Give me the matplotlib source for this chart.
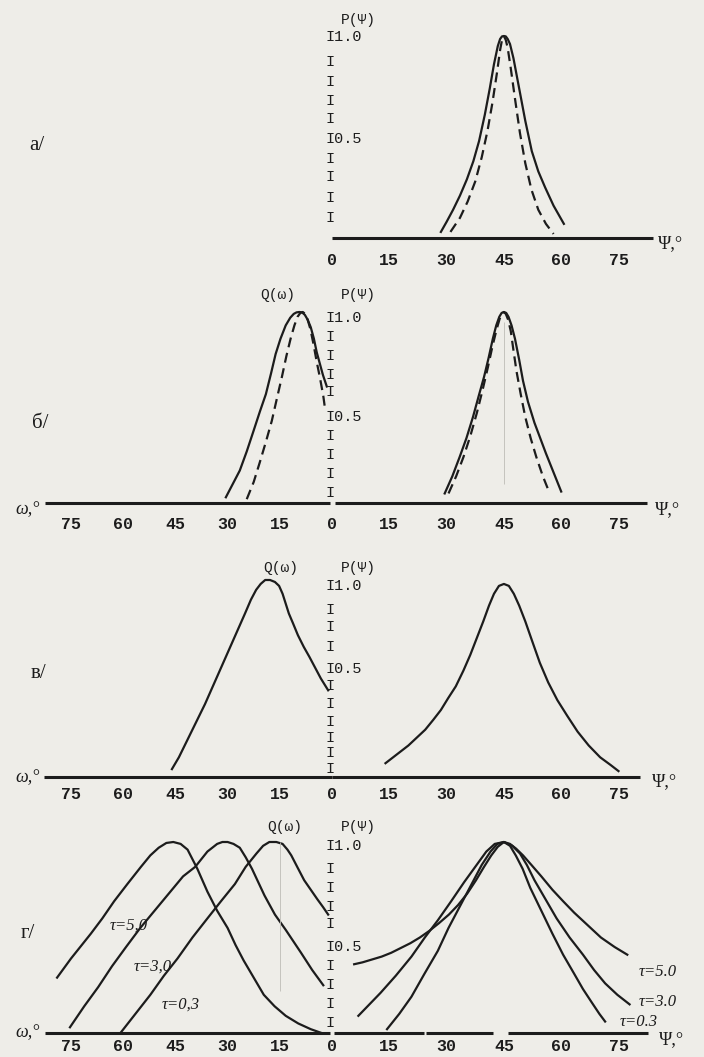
import matplotlib
matplotlib.use("Agg")
import matplotlib.pyplot as plt

# ---------------- data ----------------
# panel a/ : P(psi), solid and dashed
a_solid_psi = [28.5, 30, 31.7, 33.5, 35.3, 37, 38.5, 40, 41.3, 42.4, 43.4, 44.0, 44.5, 45, 45.5, 46.0,
               46.6, 47.5, 48.4, 49.4, 50.6, 52.3, 54, 55.8, 58, 60.7]
a_solid_p = [0.03, 0.08, 0.14, 0.21, 0.29, 0.38, 0.48, 0.61, 0.74, 0.86, 0.95, 0.985, 0.998, 1.0, 0.998,
             0.985, 0.96, 0.89, 0.80, 0.70, 0.58, 0.43, 0.33, 0.25, 0.16, 0.07]
a_dash_psi = [31, 33.5, 35.5, 37.5, 39.2, 40.7, 42, 43.2, 44.0, 44.5, 45, 45.5, 46.0, 46.8, 47.9, 49.2,
              50.6, 52.2, 54, 56, 58]
a_dash_p = [0.03, 0.10, 0.18, 0.28, 0.40, 0.53, 0.67, 0.82, 0.93, 0.98, 1.0, 0.98, 0.94, 0.84, 0.69,
            0.52, 0.37, 0.24, 0.14, 0.07, 0.02]

# panel б/ : Q(omega) left, P(psi) right
b_l_solid_om = [30.5, 28.5, 26.5, 24.5, 22.5, 20.7, 19, 17.5, 16.2, 14.8, 13.3, 12, 11.0, 10.2, 9.4,
                8.6, 7.8, 7, 6.1, 5.2, 4.4, 3.5, 2.6, 1.5]
b_l_solid_q = [0.03, 0.10, 0.17, 0.27, 0.38, 0.48, 0.57, 0.68, 0.78, 0.86, 0.93, 0.97, 0.99, 0.998, 1.0,
               0.998, 0.985, 0.96, 0.92, 0.86, 0.79, 0.73, 0.67, 0.61]
b_l_dash_om = [24.5, 22.5, 20.8, 19, 17.3, 15.8, 14.4, 13.1, 11.9, 10.8, 9.9, 9.1, 8.4, 7.7, 7, 6.2,
               5.3, 4.4, 3.4, 2.5, 1.9]
b_l_dash_q = [0.02, 0.11, 0.21, 0.32, 0.43, 0.55, 0.66, 0.77, 0.86, 0.93, 0.975, 0.995, 1.0, 0.99, 0.96,
              0.91, 0.83, 0.74, 0.65, 0.56, 0.48]
b_r_solid_psi = [29.5, 31.5, 33.4, 35.2, 36.9, 38.4, 39.8, 41, 42.1, 43, 43.8, 44.4, 45, 45.6, 46.2, 47,
                 47.9, 49, 50, 51.3, 53, 54.5, 56, 58, 60]
b_r_solid_p = [0.05, 0.14, 0.24, 0.34, 0.45, 0.56, 0.66, 0.76, 0.86, 0.93, 0.975, 0.995, 1.0, 0.995,
               0.975, 0.93, 0.86, 0.75, 0.64, 0.53, 0.42, 0.34, 0.26, 0.16, 0.06]
b_r_dash_psi = [30.5, 32.5, 34.4, 36.2, 37.9, 39.4, 40.8, 42, 43.1, 43.9, 44.5, 45, 45.5, 46.1, 46.8,
                47.5, 48.3, 49.4, 50.6, 52, 53.5, 55.2, 57]
b_r_dash_p = [0.05, 0.14, 0.24, 0.35, 0.47, 0.59, 0.71, 0.82, 0.91, 0.965, 0.99, 1.0, 0.99, 0.96, 0.90,
              0.80, 0.69, 0.57, 0.45, 0.34, 0.24, 0.14, 0.05]

# panel в/
c_l_om = [46, 44, 41.5, 39, 36.5, 34, 31.5, 29, 27, 25, 23.3, 21.8, 20.5, 19.2, 17.8, 16.4, 15.2, 14.2,
          13.3, 12.4, 11.2, 9.8, 8.1, 6.5, 5.0, 3.2, 1.1]
c_l_q = [0.04, 0.10, 0.19, 0.28, 0.37, 0.47, 0.57, 0.67, 0.75, 0.83, 0.90, 0.95, 0.98, 1.0, 1.0, 0.99,
         0.97, 0.93, 0.88, 0.83, 0.78, 0.72, 0.66, 0.61, 0.56, 0.50, 0.44]
c_r_psi = [14, 16, 18, 20, 22.2, 24.4, 26.5, 28.5, 30.4, 32.4, 34.4, 36.2, 38, 39.6, 41.1, 42.4, 43.7,
           45, 46.3, 47.6, 49.0, 50.6, 52.4, 54.4, 56.6, 59, 61.6, 64.3, 67.2, 70.2, 73, 75]
c_r_p = [0.07, 0.10, 0.13, 0.16, 0.20, 0.24, 0.29, 0.34, 0.40, 0.46, 0.54, 0.62, 0.71, 0.79, 0.87, 0.93,
         0.97, 0.98, 0.97, 0.93, 0.87, 0.79, 0.69, 0.58, 0.48, 0.39, 0.31, 0.23, 0.16, 0.10, 0.06, 0.03]

# panel г/ : three relaxation times
taus_left = ["τ=5,0", "τ=3,0", "τ=0,3"]
taus_right = ["τ=5.0", "τ=3.0", "τ=0.3"]
d_l_om = [
    [79, 75, 69.3, 66, 62.6, 58.8, 54.9, 52.2, 49.8, 47.6, 45.6, 43.5, 41.5, 38.7, 35.8, 33, 30, 27.7,
     25.4, 22.5, 19.6, 16.5, 13.3, 9.7, 6.1, 3],
    [75.3, 71.2, 67.2, 63.2, 59.2, 55.1, 51, 46.9, 42.8, 39.3, 35.8, 33, 31.5, 30, 28.3, 26.5, 24.8, 23,
     21.2, 19.4, 16.4, 13.3, 11.1, 8.9, 5.7, 2.5],
    [60.8, 56.5, 52.2, 48.3, 44.4, 40.1, 35.8, 31.9, 27.9, 24.8, 21.7, 19.8, 18, 16, 14.2, 12.8, 11.7, 10,
     8, 6.1, 4.2, 2.6, 1.1],
]
d_l_q = [
    [0.29, 0.39, 0.52, 0.60, 0.69, 0.78, 0.87, 0.93, 0.97, 0.995, 1.0, 0.99, 0.96, 0.86, 0.74, 0.64, 0.55,
     0.46, 0.38, 0.29, 0.20, 0.14, 0.09, 0.05, 0.02, 0.0],
    [0.03, 0.14, 0.24, 0.35, 0.45, 0.55, 0.64, 0.73, 0.82, 0.87, 0.95, 0.99, 1.0, 1.0, 0.99, 0.97, 0.92,
     0.86, 0.79, 0.72, 0.62, 0.54, 0.48, 0.42, 0.33, 0.25],
    [0.0, 0.10, 0.2, 0.30, 0.39, 0.50, 0.6, 0.69, 0.78, 0.87, 0.94, 0.98, 1.0, 1.0, 0.99, 0.96, 0.93, 0.87,
     0.80, 0.75, 0.70, 0.66, 0.62],
]
d_r_psi = [
    [5.8, 8, 10.5, 13, 15.5, 18, 20.5, 23, 25.5, 28, 30.6, 33.0, 35.4, 37.7, 39.8, 41.7, 43.4, 45, 46.6,
     48.2, 50, 52.2, 54.8, 57.7, 60.5, 63.4, 66.9, 70.4, 74, 77.3],
    [6.9, 9.8, 12.7, 16.7, 20.8, 24.3, 27.7, 31.2, 34.6, 37.5, 40.4, 42.6, 45, 47.2, 49.2, 51, 53, 55.9,
     58.8, 62.2, 65.7, 68.6, 71.5, 74.7, 77.9],
    [14.4, 17.6, 20.8, 24.2, 27.7, 30.5, 33.4, 36.3, 39.2, 41.5, 43.3, 45, 46.6, 48.1, 49.9, 51.9, 54.8,
     57.7, 60.5, 63.4, 65.7, 68, 70, 71.5],
]
d_r_p = [
    [0.36, 0.37, 0.385, 0.40, 0.42, 0.445, 0.47, 0.50, 0.535, 0.575, 0.62, 0.67, 0.73, 0.80, 0.87, 0.93,
     0.975, 1.0, 0.99, 0.965, 0.93, 0.88, 0.82, 0.75, 0.69, 0.63, 0.565, 0.50, 0.45, 0.41],
    [0.09, 0.15, 0.21, 0.30, 0.40, 0.50, 0.59, 0.69, 0.79, 0.87, 0.95, 0.99, 1.0, 0.98, 0.94, 0.88, 0.80,
     0.70, 0.60, 0.50, 0.41, 0.33, 0.26, 0.20, 0.15],
    [0.02, 0.10, 0.19, 0.31, 0.43, 0.55, 0.66, 0.77, 0.88, 0.95, 0.99, 1.0, 0.98, 0.93, 0.86, 0.76, 0.64,
     0.52, 0.41, 0.31, 0.23, 0.16, 0.10, 0.06],
]

angle_ticks = [0, 15, 30, 45, 60, 75]
panel_names = ["а/", "б/", "в/", "г/"]

# typed "I" marks of the vertical scale (positions of each typed character)
i_marks = [
    [0.87, 0.77, 0.68, 0.59, 0.39, 0.30, 0.20, 0.10],
    [0.87, 0.77, 0.67, 0.58, 0.35, 0.25, 0.15, 0.05],
    [0.85, 0.76, 0.66, 0.46, 0.37, 0.28, 0.20, 0.12, 0.04],
    [0.86, 0.76, 0.66, 0.57, 0.35, 0.25, 0.15, 0.05],
]
i_one = [0.995, 0.97, 0.97, 0.98]
i_half = [0.49, 0.45, 0.55, 0.45]

# ---------------- layout ----------------
W, H = 704, 1057
INK = "#1c1c1c"
BG = "#eeede8"
MONO = ["Liberation Mono", "DejaVu Sans Mono"]
SERIF = ["Liberation Serif", "DejaVu Serif"]

plt.rcParams["font.family"] = MONO

fig = plt.figure(figsize=(W / 100, H / 100), dpi=100, facecolor=BG)

X0 = 332          # pixel of the 0 degree point
SR = 3.82         # px per degree, right half
SL = 3.48         # px per degree, left half
XMAX = 86

# pixel rows: (P=1 row, P=0 row)
rows = [(36, 238), (312, 503), (580, 777), (842, 1033)]
pads = [10.5, 10, 7, 4.5]
YTOP = 1.12


def make_axes(x_left, x_right, y1, y0):
    s = y0 - y1
    top = y1 - (YTOP - 1) * s
    rect = [x_left / W, 1 - y0 / H, (x_right - x_left) / W, (y0 - top) / H]
    ax = fig.add_axes(rect)
    ax.set_facecolor("none")
    for sp in ax.spines.values():
        sp.set_visible(False)
    ax.set_yticks([])
    ax.set_ylim(0, YTOP)
    return ax


def style_ticks(ax, ticks, pad):
    ax.set_xticks(ticks)
    ax.set_xticklabels([str(t) for t in ticks])
    ax.tick_params(axis="x", length=0, pad=pad, labelsize=12, colors=INK)
    for lbl in ax.get_xticklabels():
        lbl.set_fontweight("bold")


axes_r = []
axes_l = []
for k, (y1, y0) in enumerate(rows):
    axr = make_axes(X0, X0 + XMAX * SR, y1, y0)
    axr.set_xlim(0, XMAX)
    style_ticks(axr, angle_ticks, pads[k])
    axes_r.append(axr)
    if k > 0:
        axl = make_axes(X0 - XMAX * SL, X0, y1, y0)
        axl.set_xlim(XMAX, 0)
        style_ticks(axl, angle_ticks[1:], pads[k])
        axes_l.append(axl)
    else:
        axes_l.append(None)

lw = 1.6
dash = (0, (4.5, 2.6))

# axis lines
axes_r[0].hlines(0, 0, 84, color=INK, lw=2.2, clip_on=False)
axes_r[1].hlines(0, 0.8, 82.5, color=INK, lw=2.2, clip_on=False)
axes_l[1].hlines(0, 0.5, 82.5, color=INK, lw=2.2, clip_on=False)
axes_r[2].hlines(0, 0, 80.5, color=INK, lw=2.2, clip_on=False)
axes_l[2].hlines(0, 0, 82.8, color=INK, lw=2.2, clip_on=False)
axes_r[3].hlines([0, 0, 0], [0.5, 24.6, 46.1], [24.0, 42.2, 82.6], color=INK, lw=2.2, clip_on=False)
axes_l[3].hlines(0, 0.5, 82.5, color=INK, lw=2.2, clip_on=False)

# curves
axes_r[0].plot(a_solid_psi, a_solid_p, color=INK, lw=lw)
axes_r[0].plot(a_dash_psi, a_dash_p, color=INK, lw=lw, linestyle=dash)

axes_l[1].plot(b_l_solid_om, b_l_solid_q, color=INK, lw=lw)
axes_l[1].plot(b_l_dash_om, b_l_dash_q, color=INK, lw=lw, linestyle=dash)
axes_r[1].plot(b_r_solid_psi, b_r_solid_p, color=INK, lw=lw)
axes_r[1].plot(b_r_dash_psi, b_r_dash_p, color=INK, lw=lw, linestyle=dash)
axes_r[1].vlines(45, 0.1, 0.95, color="#bdbcb6", lw=0.6)

axes_l[2].plot(c_l_om, c_l_q, color=INK, lw=lw)
axes_r[2].plot(c_r_psi, c_r_p, color=INK, lw=lw)

for om, q in zip(d_l_om, d_l_q):
    axes_l[3].plot(om, q, color=INK, lw=lw)
for psi, p in zip(d_r_psi, d_r_p):
    axes_r[3].plot(psi, p, color=INK, lw=lw)
axes_l[3].vlines(15, 0.22, 1.0, color="#bdbcb6", lw=0.6)

# tau labels
tau_l_pos = [(64, 0.56), (57, 0.35), (49, 0.15)]
tau_r_pos = [(80.4, 0.32), (80.4, 0.16), (75.4, 0.06)]
for name, (x, y) in zip(taus_left, tau_l_pos):
    axes_l[3].text(x, y, name, ha="left", va="center", fontsize=12, style="italic",
                   family=SERIF, color=INK, clip_on=False)
for name, (x, y) in zip(taus_right, tau_r_pos):
    axes_r[3].text(x, y, name, ha="left", va="center", fontsize=12, style="italic",
                   family=SERIF, color=INK, clip_on=False)

# typed vertical scale and function names
pl_y = [1.08, 1.09, 1.06, 1.08]
q_pos = [None, (15.5, 1.09), (14.7, 1.06), (13.5, 1.08)]
psi_lab = [(85.3, -0.03), (84.6, -0.037), (83.8, -0.025), (85.6, -0.037)]
om_lab = [None, (84, -0.037), (84, -0.005), (84, 0.0)]
for k in range(4):
    ax = axes_r[k]
    ax.text(-1.7, i_one[k], "I1.0", ha="left", va="center", fontsize=11, color=INK, clip_on=False)
    ax.text(-1.7, i_half[k], "I0.5", ha="left", va="center", fontsize=11, color=INK, clip_on=False)
    for m in i_marks[k]:
        ax.text(-0.5, m, "I", ha="center", va="center", fontsize=11, color=INK, clip_on=False)
    ax.text(6.8, pl_y[k], "P(Ψ)", ha="center", va="center", fontsize=10.5, color=INK, clip_on=False)
    ax.text(psi_lab[k][0], psi_lab[k][1], "Ψ,°", ha="left", va="center", fontsize=13,
            family=SERIF, color=INK, clip_on=False)
    if axes_l[k] is not None:
        axl = axes_l[k]
        axl.text(q_pos[k][0], q_pos[k][1], "Q(ω)", ha="center", va="center", fontsize=10.5,
                 color=INK, clip_on=False)
        axl.text(om_lab[k][0], om_lab[k][1], "ω,°", ha="right", va="center", fontsize=13,
                 family=SERIF, style="italic", color=INK, clip_on=False)

# panel letters
letter_px = [(37, 145), (40, 423), (38, 674), (28, 934)]
for name, (px, py) in zip(panel_names, letter_px):
    fig.text(px / W, 1 - py / H, name, ha="center", va="center", fontsize=15,
             family=SERIF, color=INK)

fig.savefig("out.png", dpi=100, facecolor=BG)
